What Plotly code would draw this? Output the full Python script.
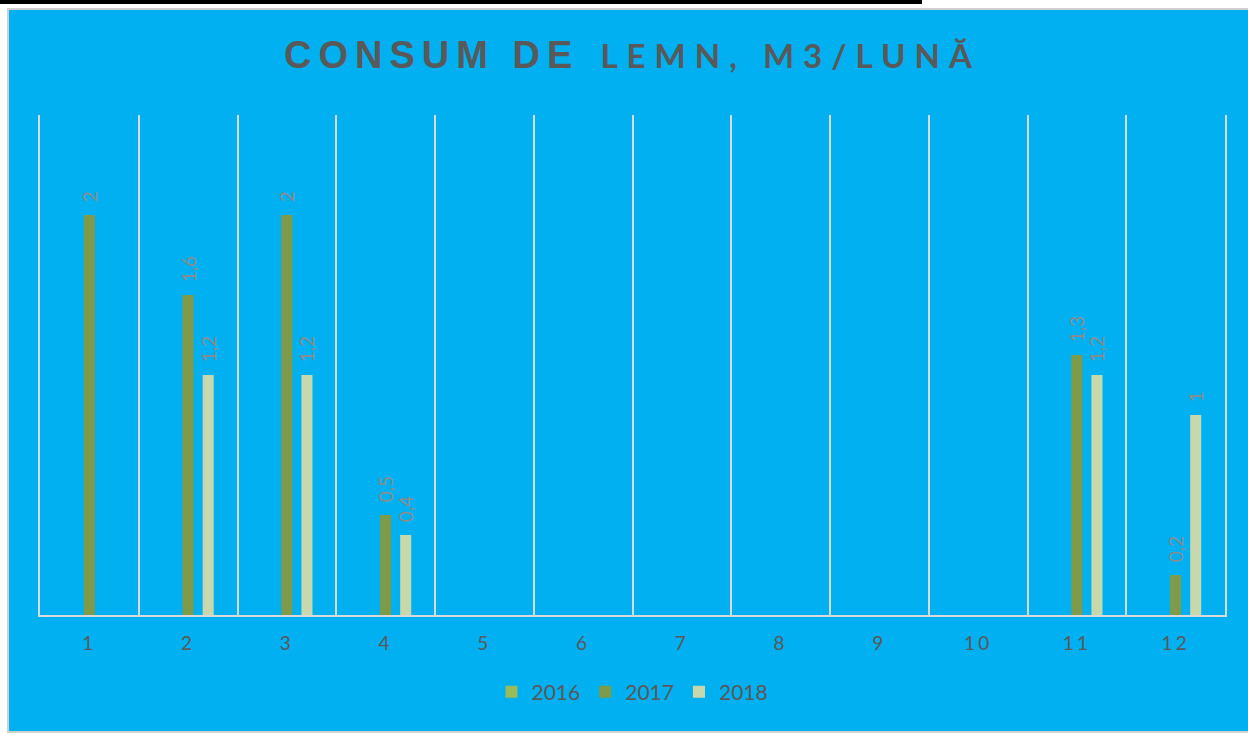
import plotly.graph_objects as go

months = list(range(1, 13))
month_labels = ["1", "2", "3", "4", "5", "6", "7", "8", "9", "10", "11", "12"]
series_names = ["2016", "2017", "2018"]
v2016 = [None] * 12
v2017 = [2, 1.6, 2, 0.5, None, None, None, None, None, None, 1.3, 0.2]
v2018 = [None, 1.2, 1.2, 0.4, None, None, None, None, None, None, 1.2, 1]
colors = ["#9BBB59", "#7F9A48", "#C9D8AC"]

W, H = 1248, 733
L, R, T, B = 40, 23, 115, 118
PW, PH = W - L - R, H - T - B
BLUE = "#00B0F0"
GRID = "#D9D9D9"
TXT = "#595959"
PAD = "\u00a0\u00a0"  # small visual gap between bar top and rotated label


def fmt(v):
    return "" if v is None else PAD + f"{v:g}".replace(".", ",")


def px(x):
    return (x - L) / PW


def py(y):
    return (H - B - y) / PH


fig = go.Figure()
for name, vals, col in zip(series_names, [v2016, v2017, v2018], colors):
    fig.add_trace(go.Bar(
        x=months, y=vals, name=name, marker=dict(color=col, line=dict(width=0)),
        text=[fmt(v) for v in vals], textposition="outside", textangle=-90,
        constraintext="none",
        textfont=dict(family="Lato", size=19, color="#8C8C8C"),
        cliponaxis=False,
    ))

shapes = [
    dict(type="rect", xref="paper", yref="paper", x0=px(0), x1=px(W), y0=py(0), y1=py(8),
         fillcolor="white", line=dict(width=0), layer="below"),
    dict(type="rect", xref="paper", yref="paper", x0=px(0), x1=px(7), y0=py(0), y1=py(H),
         fillcolor="white", line=dict(width=0), layer="below"),
    dict(type="rect", xref="paper", yref="paper", x0=px(0), x1=px(922), y0=py(0), y1=py(4),
         fillcolor="black", line=dict(width=0), layer="below"),
    dict(type="rect", xref="paper", yref="paper", x0=px(8), x1=px(W + 5), y0=py(9), y1=py(732),
         fillcolor="rgba(0,0,0,0)", line=dict(color="#D0D0D0", width=2), layer="below"),
]

title_html = (
    "<b><span style=\"font-family:'Liberation Sans';letter-spacing:7px\">CONSUM DE</span>\u00a0 "
    "<span style=\"font-family:Lato;font-size:33px;letter-spacing:9px\">LEMN, M3/LUNĂ</span></b>"
)

fig.update_layout(
    width=W, height=H,
    margin=dict(l=L, r=R, t=T, b=B, pad=0),
    paper_bgcolor=BLUE, plot_bgcolor=BLUE,
    barmode="group", bargap=0.39, bargroupgap=0.45,
    title=dict(text=title_html, x=0.5, xref="paper", xanchor="center",
               y=1 - 55 / H, yref="container", yanchor="middle",
               font=dict(family="Liberation Sans", size=38, color=TXT)),
    xaxis=dict(
        range=[0.5, 12.5], tickmode="array", tickvals=months,
        ticktext=[f"<span style=\"letter-spacing:3px\">{t}</span>" for t in month_labels],
        showgrid=False, zeroline=False, showline=True, linecolor=GRID, linewidth=2,
        ticks="", ticklabelstandoff=10,
        tickfont=dict(family="Lato", size=19, color=TXT),
        minor=dict(tickmode="array", tickvals=[m - 0.5 for m in months] + [months[-1] + 0.5],
                   showgrid=True, gridcolor=GRID, gridwidth=2, ticks=""),
    ),
    yaxis=dict(range=[0, 2.5], showgrid=False, zeroline=False, showticklabels=False,
               ticks="", showline=True, mirror=True, linecolor=GRID, linewidth=2),
    legend=dict(orientation="h", x=0.5, xanchor="center", y=py(692), yanchor="middle",
                font=dict(family="Lato", size=21, color=TXT), bgcolor="rgba(0,0,0,0)",
                traceorder="normal"),
    shapes=shapes,
    showlegend=True,
)

fig.write_html("out.html", config={"displayModeBar": False},
               post_script="document.body.style.margin='0';")
